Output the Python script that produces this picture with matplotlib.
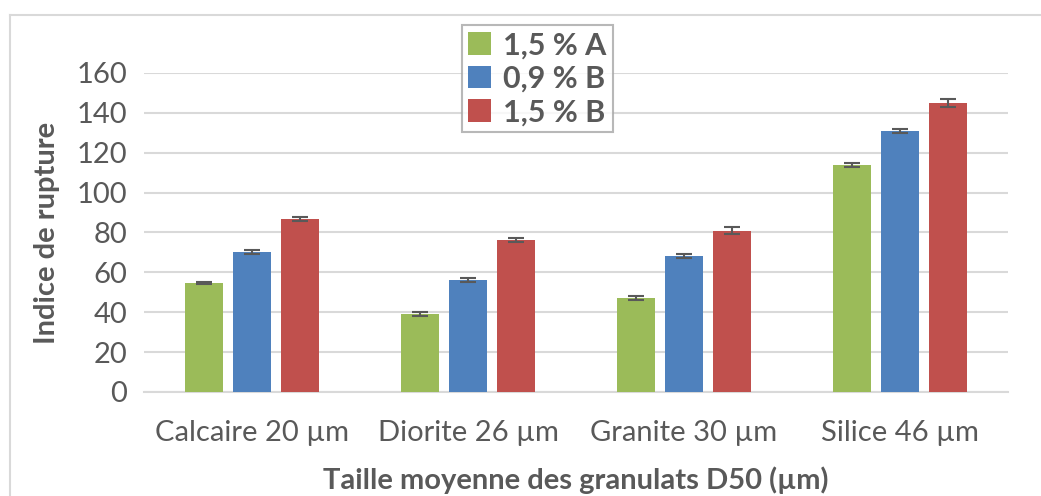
import numpy as np
import matplotlib
matplotlib.use("Agg")
import matplotlib.pyplot as plt
from matplotlib.lines import Line2D

# data
categories = ["Calcaire 20 µm", "Diorite 26 µm", "Granite 30 µm", "Silice 46 µm"]
series_names = ["1,5 % A", "0,9 % B", "1,5 % B"]
vals_15A = [54.5, 39, 47, 114]
vals_09B = [70, 56, 68, 131]
vals_15B = [87, 76, 81, 145]
err_15A = [0.5, 1.0, 1.0, 1.0]
err_09B = [1.0, 1.0, 1.0, 1.0]
err_15B = [1.0, 1.0, 2.0, 2.0]
yticks = [0, 20, 40, 60, 80, 100, 120, 140, 160]

colors = ["#9BBB59", "#4F81BD", "#C0504D"]
text_col = "#595959"

plt.rcParams["font.family"] = ["Lato", "DejaVu Sans"]

fig = plt.figure(figsize=(10.41, 4.96), dpi=100)
ax = fig.add_axes([144 / 1041, 1 - 392 / 496, 864 / 1041, 319 / 496])

x = np.arange(len(categories))
width = 0.172
step = 0.222
all_vals = [vals_15A, vals_09B, vals_15B]
all_errs = [err_15A, err_09B, err_15B]
for i, (vals, errs) in enumerate(zip(all_vals, all_errs)):
    ax.bar(x + (i - 1) * step, vals, width, color=colors[i], label=series_names[i], zorder=3)
    ax.errorbar(x + (i - 1) * step, vals, yerr=errs, fmt="none", ecolor="#595959",
                elinewidth=1.5, capsize=6, capthick=1.5, zorder=4)

ax.set_xlim(-0.5, 3.5)
ax.set_ylim(0, 160)
ax.set_yticks(yticks)
ax.set_xticks(x)
ax.set_xticklabels(categories)
ax.yaxis.grid(True, color="#D9D9D9", linewidth=1.5, zorder=0)
ax.set_axisbelow(True)
for s in ["top", "right", "left"]:
    ax.spines[s].set_visible(False)
ax.spines["bottom"].set_color("#D9D9D9")
ax.spines["bottom"].set_linewidth(1.5)
ax.tick_params(axis="both", length=0, labelsize=21, labelcolor=text_col)
ax.tick_params(axis="x", pad=20)
ax.tick_params(axis="y", pad=12)

ax.set_xlabel("Taille moyenne des granulats D50 (µm)", fontsize=21, fontweight="bold",
              color=text_col, labelpad=15)
ax.set_ylabel("Indice de rupture", fontsize=21, fontweight="bold", color=text_col, labelpad=12)

leg = ax.legend(loc="upper left", bbox_to_anchor=(318 / 864, 1.15), frameon=True,
                fancybox=False, edgecolor="#A6A6A6", handlelength=0.75, handleheight=0.75,
                handletextpad=0.4, borderpad=0.2, labelspacing=0.18, borderaxespad=0,
                prop={"size": 22, "weight": "bold"})
leg.get_frame().set_linewidth(1.5)
for t in leg.get_texts():
    t.set_color(text_col)

# chart frame (top and left edges visible)
fig.add_artist(Line2D([10 / 1041, 1], [1 - 15 / 496, 1 - 15 / 496], color="#D9D9D9", linewidth=1.5))
fig.add_artist(Line2D([10 / 1041, 10 / 1041], [0, 1 - 15 / 496], color="#D9D9D9", linewidth=1.5))

fig.savefig("out.png", dpi=100)
